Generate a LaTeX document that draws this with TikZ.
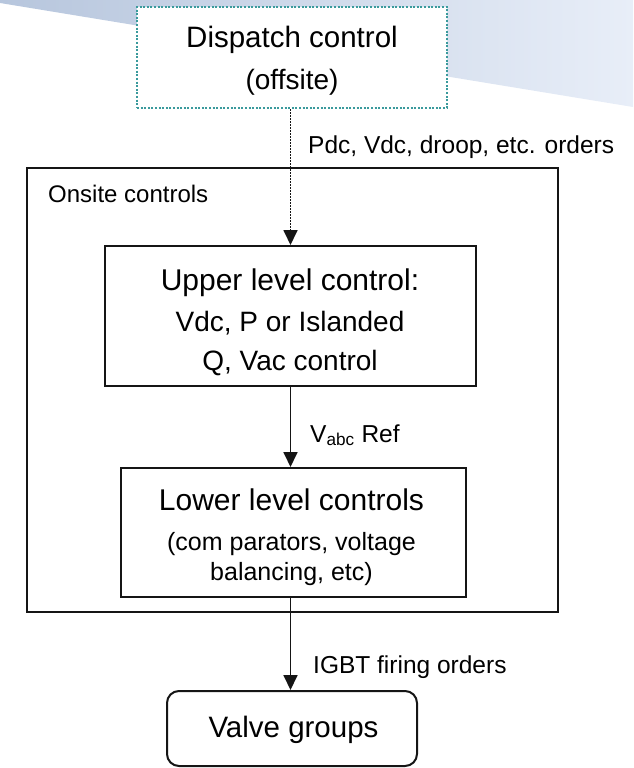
\documentclass[tikz,border=0pt]{standalone}
\usepackage{fontspec}
\setmainfont{Liberation Sans}
\usetikzlibrary{arrows.meta}

\definecolor{inkc}{HTML}{151515}
\definecolor{tealdot}{HTML}{3A9A9C}
\definecolor{swooshL}{RGB}{183,198,221}
\definecolor{swooshR}{RGB}{232,238,248}

\tikzset{
  box/.style={draw=inkc, line width=2pt, fill=white, inner sep=0pt},
  offsitebox/.style={draw=tealdot, line width=2.4pt, fill=white, inner sep=0pt,
    dash pattern=on 2pt off 1.6pt},
  flow/.style={draw=inkc, line width=1.8pt, -{Triangle[length=15pt,width=14pt]}},
  dotflow/.style={flow, dash pattern=on 1.6pt off 1.4pt},
  line/.style={anchor=base, inner sep=0pt, text=black},
  lbl/.style={anchor=base west, inner sep=0pt, text=black,
    font=\fontsize{24.5}{28}\selectfont},
  big/.style={font=\fontsize{30}{34}\selectfont},
  mid/.style={font=\fontsize{28}{32}\selectfont},
  small/.style={font=\fontsize{25}{29}\selectfont},
}

\begin{document}
\begin{tikzpicture}[x=1pt,y=-1pt]
\useasboundingbox (0,0) rectangle (633,768);

% slide background band across the top
\shade[left color=swooshL, right color=swooshR]
  (0,0) -- (633,0) -- (633,107) -- (0,3) -- cycle;

% onsite frame
\node[box, line width=2.2pt, minimum width=531pt, minimum height=444pt]
  (onsite) at (292.5,390) {};
\node[lbl, font=\fontsize{24}{28}\selectfont] (onsitelbl) at (48,202) {Onsite controls};

% blocks
\node[offsitebox, minimum width=310pt, minimum height=101pt] (dispatch) at (292,57.5) {};
\node[line, font=\fontsize{29.5}{34}\selectfont] (dispatchA) at (292,48) {Dispatch control};
\node[line, mid] (dispatchB) at (292,89) {(offsite)};

\node[box, minimum width=371pt, minimum height=140pt] (upper) at (290.5,316) {};
\node[line, big] (upperA) at (290,290) {Upper level control:};
\node[line, mid] (upperB) at (290,331) {Vdc, P or Islanded};
\node[line, mid] (upperC) at (290,370) {Q, Vac control};

\node[box, minimum width=345pt, minimum height=129pt] (lower) at (293.5,532.5) {};
\node[line, big] (lowerA) at (291.5,510) {Lower level controls};
\node[line, small] (lowerB) at (291.5,550) {(com parators, voltage};
\node[line, small] (lowerC) at (291.5,580) {balancing, etc)};

\node[box, rounded corners=12pt, minimum width=250pt, minimum height=75pt] (valve) at (292,728.5) {};
\node[line, font=\fontsize{29.5}{34}\selectfont] (valveA) at (293.5,737) {Valve groups};

% signal flow
\draw[dotflow] (dispatch.south -| upper.north) -- (upper.north);
\draw[flow] (upper.south) -- (upper.south |- lower.north);
\draw[flow] (lower.south -| upper.south) -- (valve.north -| upper.south);

% connector labels
\node[lbl] (orders) at (308,153) {Pdc, Vdc, droop, etc. orders};
\node[lbl] (vref) at (310,442) {V\textsubscript{abc} Ref};
\node[lbl] (igbt) at (313,673) {IGBT firing orders};
\end{tikzpicture}
\end{document}
